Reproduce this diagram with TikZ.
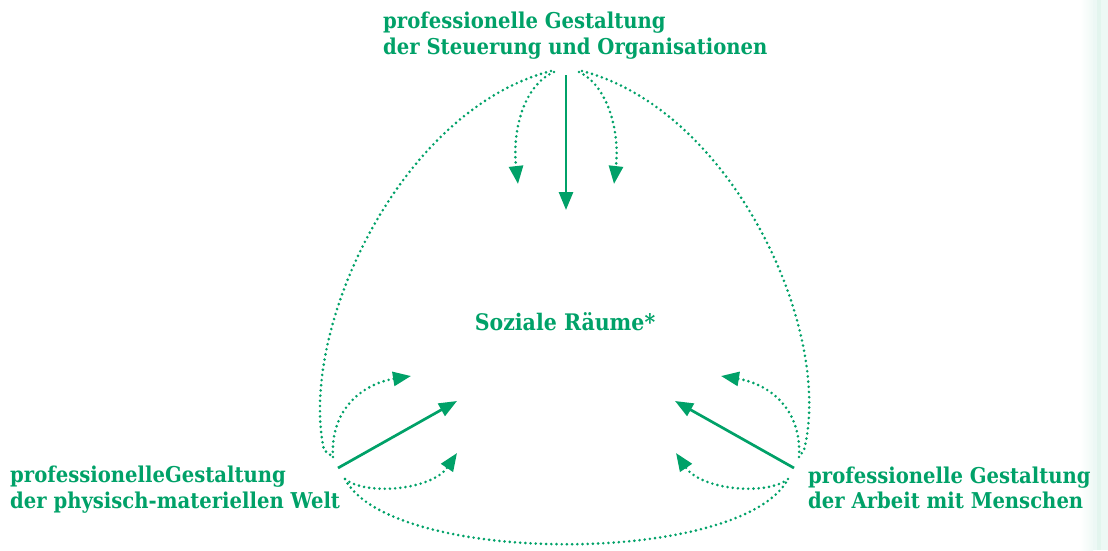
\documentclass[tikz,border=0pt]{standalone}
\usepackage{fontspec}
\setmainfont{DejaVu Serif}
\usetikzlibrary{arrows.meta}
\definecolor{sgreen}{RGB}{0,161,104}
\begin{document}
\begin{tikzpicture}[x=1pt,y=-1pt,
  lbl/.style={anchor=base west, inner sep=0pt, text=sgreen,
    font=\bfseries\fontsize{21.8}{26}\selectfont},
  ctr/.style={anchor=base, inner sep=0pt, text=sgreen,
    font=\bfseries\fontsize{22.8}{26}\selectfont},
  tip/.style={-{Triangle[length=18pt,width=14pt]}},
  solidarr/.style={tip, draw=sgreen, fill=sgreen, line width=2.7pt},
  dotarr/.style={tip, draw=sgreen, line width=2.9pt, line cap=round,
    dash pattern=on 0pt off 5.2pt},
  dotline/.style={draw=sgreen, line width=2.9pt, line cap=round,
    dash pattern=on 0pt off 5.2pt}]
\useasboundingbox (0,0) rectangle (1108,550);
% pale strip along the right edge
\shade[left color=white, right color=sgreen!6] (1080,0) rectangle (1093,550);
\fill[sgreen!7] (1093,0) rectangle (1108,550);
\fill[sgreen!11] (1097,0) rectangle (1101,550);

% labels
\node[lbl] (top1) at (383,28) {\scalebox{0.9}[1]{professionelle Gestaltung}};
\node[lbl] (top2) at (383,54) {\scalebox{0.9}[1]{der Steuerung und Organisationen}};
\node[lbl] (left1) at (10,482) {\scalebox{0.9}[1]{professionelleGestaltung}};
\node[lbl] (left2) at (10,508) {\scalebox{0.9}[1]{der physisch-materiellen Welt}};
\node[lbl] (right1) at (808,483) {\scalebox{0.9}[1]{professionelle Gestaltung}};
\node[lbl] (right2) at (808,508) {\scalebox{0.9}[1]{der Arbeit mit Menschen}};
\node[ctr] (center) at (565,330) {\scalebox{0.9}[1]{Soziale Räume*}};

% end points of the connectors
\coordinate (tS) at (566,75);
\coordinate (tA) at (554,72);
\coordinate (tB) at (579,72);
\coordinate (tL) at (551,71);
\coordinate (tR) at (582,71);
\coordinate (lS) at (338,468);
\coordinate (lU) at (333,457);
\coordinate (lD) at (345,479);
\coordinate (rS) at (794,468);
\coordinate (rU) at (799,457);
\coordinate (rD) at (788,479);
\coordinate (hT) at (566,210);
\coordinate (hTa) at (518,184);
\coordinate (hTb) at (614,184);
\coordinate (hL) at (457,401);
\coordinate (hLu) at (411,376);
\coordinate (hLd) at (457,453);
\coordinate (hR) at (675,401);
\coordinate (hRu) at (721,376);
\coordinate (hRd) at (676,453);

% outer dotted arcs between the three corners
\path[dotline] (tL) .. controls (400,110) and (298,330) .. (324,450) -- (lU);
\path[dotline] (tR) .. controls (732,110) and (834,330) .. (804,450) -- (rU);
\path[dotline] (lD) .. controls (390,566) and (742,566) .. (rD);

% from the top
\path[solidarr] (tS) -- (hT);
\path[dotarr] (tA) .. controls (524,85) and (512,130) .. (hTa);
\path[dotarr] (tB) .. controls (607,85) and (620,130) .. (hTb);

% from the lower left
\path[solidarr] (lS) -- (hL);
\path[dotarr] (lU) .. controls (330,410) and (362,384) .. (hLu);
\path[dotarr] (lD) .. controls (366,496) and (432,490) .. (hLd);

% from the lower right
\path[solidarr] (rS) -- (hR);
\path[dotarr] (rU) .. controls (802,410) and (770,384) .. (hRu);
\path[dotarr] (rD) .. controls (767,496) and (701,490) .. (hRd);
\end{tikzpicture}
\end{document}
